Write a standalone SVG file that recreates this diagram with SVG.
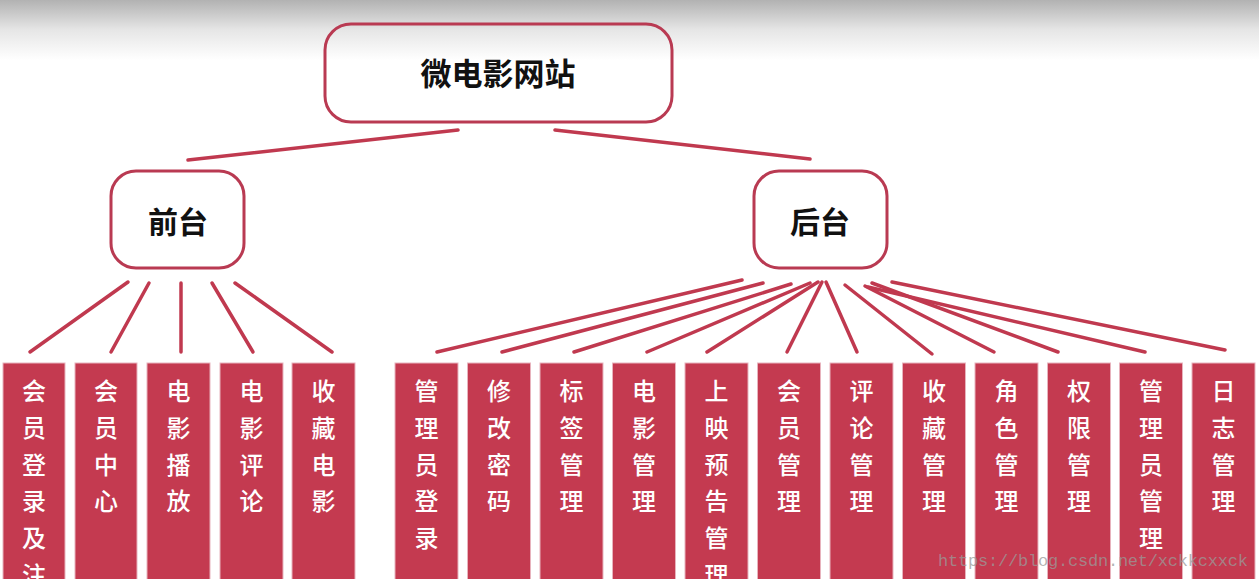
<svg xmlns="http://www.w3.org/2000/svg" width="1259" height="579" viewBox="0 0 1259 579">
<defs>
<linearGradient id="bg" x1="0" y1="0" x2="0" y2="1">
<stop offset="0" stop-color="#b2b2b2"/>
<stop offset="0.5" stop-color="#e6e6e6"/>
<stop offset="1" stop-color="#ffffff"/>
</linearGradient>
<style>
.node{fill:none;stroke:#b93a52;stroke-width:3}
.title{font-family:"Noto Sans CJK SC","Noto Sans",sans-serif;font-weight:bold;fill:#111;text-anchor:middle}
.leaf{fill:#c43a50;stroke:#e8b3bd;stroke-width:1}
.lt{font-family:"Noto Sans CJK SC","Noto Sans",sans-serif;font-weight:500;font-size:24px;fill:#ffffff;text-anchor:middle}
#connectors line{stroke:#c0394f;stroke-width:3.5;stroke-linecap:round}
.wm{font-family:"Liberation Mono",monospace;font-size:17px;fill:#9a9a9a;fill-opacity:0.75}
</style>
</defs>
<rect x="0" y="0" width="1259" height="579" fill="#ffffff"/>
<rect x="0" y="0" width="1259" height="60" fill="url(#bg)"/>

<g id="connectors">
<line x1="188" y1="160" x2="458" y2="130"/>
<line x1="555" y1="130" x2="810" y2="159"/>
<line x1="128" y1="282" x2="30" y2="352"/>
<line x1="149" y1="283" x2="111" y2="352"/>
<line x1="181" y1="283" x2="181" y2="352"/>
<line x1="212" y1="283" x2="253" y2="352"/>
<line x1="235" y1="283" x2="332" y2="352"/>
<line x1="742" y1="280" x2="437" y2="352"/>
<line x1="763" y1="283" x2="502" y2="352"/>
<line x1="791" y1="284" x2="574" y2="352"/>
<line x1="810" y1="283" x2="647" y2="352"/>
<line x1="818" y1="282" x2="707" y2="352"/>
<line x1="822" y1="282" x2="787" y2="352"/>
<line x1="826" y1="282" x2="857" y2="352"/>
<line x1="845" y1="285" x2="932" y2="354"/>
<line x1="865" y1="286" x2="994" y2="352"/>
<line x1="872" y1="283" x2="1058" y2="352"/>
<line x1="868" y1="287" x2="1145" y2="352"/>
<line x1="892" y1="282" x2="1225" y2="350"/>
</g>

<g id="root">
<rect class="node" x="325" y="24" width="347" height="98" rx="26"/>
<text class="title" x="498" y="85" font-size="31">微电影网站</text>
</g>
<g id="front">
<rect class="node" x="111" y="171" width="133" height="97" rx="25"/>
<text class="title" x="178" y="233" font-size="30">前台</text>
</g>
<g id="back">
<rect class="node" x="754" y="171" width="133" height="97" rx="25"/>
<text class="title" x="820" y="233" font-size="30">后台</text>
</g>

<g id="f1"><rect class="leaf" x="3" y="363" width="62" height="220"/>
<text class="lt" x="34"><tspan x="34" y="400">会</tspan><tspan x="34" y="437">员</tspan><tspan x="34" y="474">登</tspan><tspan x="34" y="510">录</tspan><tspan x="34" y="547">及</tspan><tspan x="34" y="584">注</tspan></text></g>
<g id="f2"><rect class="leaf" x="75" y="363" width="62" height="220"/>
<text class="lt"><tspan x="106" y="400">会</tspan><tspan x="106" y="437">员</tspan><tspan x="106" y="474">中</tspan><tspan x="106" y="510">心</tspan></text></g>
<g id="f3"><rect class="leaf" x="147" y="363" width="63" height="220"/>
<text class="lt"><tspan x="178.5" y="400">电</tspan><tspan x="178.5" y="437">影</tspan><tspan x="178.5" y="474">播</tspan><tspan x="178.5" y="510">放</tspan></text></g>
<g id="f4"><rect class="leaf" x="220" y="363" width="63" height="220"/>
<text class="lt"><tspan x="251.5" y="400">电</tspan><tspan x="251.5" y="437">影</tspan><tspan x="251.5" y="474">评</tspan><tspan x="251.5" y="510">论</tspan></text></g>
<g id="f5"><rect class="leaf" x="292" y="363" width="63" height="220"/>
<text class="lt"><tspan x="323.5" y="400">收</tspan><tspan x="323.5" y="437">藏</tspan><tspan x="323.5" y="474">电</tspan><tspan x="323.5" y="510">影</tspan></text></g>

<g id="b1"><rect class="leaf" x="395" y="363" width="63" height="220"/>
<text class="lt"><tspan x="426.5" y="400">管</tspan><tspan x="426.5" y="437">理</tspan><tspan x="426.5" y="474">员</tspan><tspan x="426.5" y="510">登</tspan><tspan x="426.5" y="547">录</tspan></text></g>
<g id="b2"><rect class="leaf" x="467.5" y="363" width="63" height="220"/>
<text class="lt"><tspan x="499" y="400">修</tspan><tspan x="499" y="437">改</tspan><tspan x="499" y="474">密</tspan><tspan x="499" y="510">码</tspan></text></g>
<g id="b3"><rect class="leaf" x="540" y="363" width="63" height="220"/>
<text class="lt"><tspan x="571.5" y="400">标</tspan><tspan x="571.5" y="437">签</tspan><tspan x="571.5" y="474">管</tspan><tspan x="571.5" y="510">理</tspan></text></g>
<g id="b4"><rect class="leaf" x="612.5" y="363" width="63" height="220"/>
<text class="lt"><tspan x="644" y="400">电</tspan><tspan x="644" y="437">影</tspan><tspan x="644" y="474">管</tspan><tspan x="644" y="510">理</tspan></text></g>
<g id="b5"><rect class="leaf" x="685" y="363" width="63" height="220"/>
<text class="lt"><tspan x="716.5" y="400">上</tspan><tspan x="716.5" y="437">映</tspan><tspan x="716.5" y="474">预</tspan><tspan x="716.5" y="510">告</tspan><tspan x="716.5" y="547">管</tspan><tspan x="716.5" y="584">理</tspan></text></g>
<g id="b6"><rect class="leaf" x="757.5" y="363" width="63" height="220"/>
<text class="lt"><tspan x="789" y="400">会</tspan><tspan x="789" y="437">员</tspan><tspan x="789" y="474">管</tspan><tspan x="789" y="510">理</tspan></text></g>
<g id="b7"><rect class="leaf" x="830" y="363" width="63" height="220"/>
<text class="lt"><tspan x="861.5" y="400">评</tspan><tspan x="861.5" y="437">论</tspan><tspan x="861.5" y="474">管</tspan><tspan x="861.5" y="510">理</tspan></text></g>
<g id="b8"><rect class="leaf" x="902.5" y="363" width="63" height="220"/>
<text class="lt"><tspan x="934" y="400">收</tspan><tspan x="934" y="437">藏</tspan><tspan x="934" y="474">管</tspan><tspan x="934" y="510">理</tspan></text></g>
<g id="b9"><rect class="leaf" x="975" y="363" width="63" height="220"/>
<text class="lt"><tspan x="1006.5" y="400">角</tspan><tspan x="1006.5" y="437">色</tspan><tspan x="1006.5" y="474">管</tspan><tspan x="1006.5" y="510">理</tspan></text></g>
<g id="b10"><rect class="leaf" x="1047.5" y="363" width="63" height="220"/>
<text class="lt"><tspan x="1079" y="400">权</tspan><tspan x="1079" y="437">限</tspan><tspan x="1079" y="474">管</tspan><tspan x="1079" y="510">理</tspan></text></g>
<g id="b11"><rect class="leaf" x="1119.5" y="363" width="63" height="220"/>
<text class="lt"><tspan x="1151" y="400">管</tspan><tspan x="1151" y="437">理</tspan><tspan x="1151" y="474">员</tspan><tspan x="1151" y="510">管</tspan><tspan x="1151" y="547">理</tspan></text></g>
<g id="b12"><rect class="leaf" x="1192" y="363" width="63" height="220"/>
<text class="lt"><tspan x="1223.5" y="400">日</tspan><tspan x="1223.5" y="437">志</tspan><tspan x="1223.5" y="474">管</tspan><tspan x="1223.5" y="510">理</tspan></text></g>

<text class="wm" x="938" y="566" textLength="310">https://blog.csdn.net/xckkcxxck</text>
</svg>
